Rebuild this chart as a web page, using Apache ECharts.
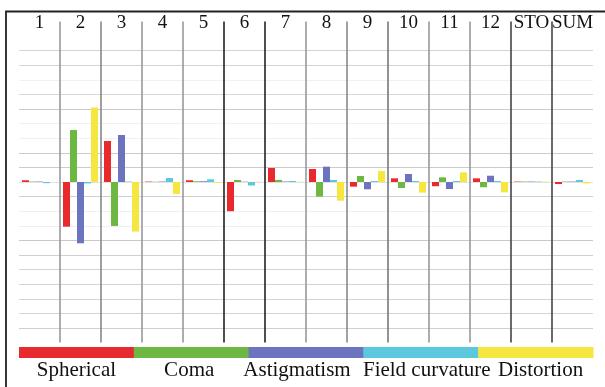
<!DOCTYPE html>
<html>
<head>
<meta charset="utf-8">
<script src="https://cdn.jsdelivr.net/npm/echarts@6/dist/echarts.min.js"></script>
<style>
html, body { margin: 0; padding: 0; background: #fff; }
#chart { width: 605px; height: 387px; }
</style>
</head>
<body>
<div id="chart"></div>
<script>
// surfaces (columns) and seidel contributions, in grid units
var surfaces = ['1', '2', '3', '4', '5', '6', '7', '8', '9', '10', '11', '12', 'STO', 'SUM'];
var spherical      = [0.12, -3.06, 2.81, 0.03, 0.12, -2.0, 0.96, 0.89, -0.32, 0.25, -0.29, 0.25, 0.03, -0.14];
var coma           = [0.03, 3.56, -3.01, 0.02, 0.05, 0.14, 0.14, -1.0, 0.41, -0.41, 0.32, -0.36, 0.03, 0.03];
var astigmatism    = [0.03, -4.2, 3.22, 0.03, 0.05, 0.02, 0.03, 1.05, -0.5, 0.55, -0.48, 0.43, 0.03, 0.03];
var fieldCurvature = [-0.08, -0.1, 0.03, 0.27, 0.18, -0.24, 0.07, 0.14, 0.07, 0.07, 0.07, 0.07, 0.03, 0.14];
var distortion     = [0.0, 5.1, -3.4, -0.82, -0.05, 0.02, 0.02, -1.28, 0.75, -0.73, 0.66, -0.71, 0.03, -0.1];
var seriesNames = ['Spherical', 'Coma', 'Astigmatism', 'Field curvature', 'Distortion'];

var seriesColors = ['#e8292e', '#6cb843', '#6c74c0', '#5cc8dd', '#f6e740'];
var legendTextShift = [0, -2, -9, 6, 5];

// layout
var gridLeft = 19, gridRight = 12, gridTop = 21.4, gridBottom = 44.4;
var chartW = 605;

// vertical separators, one per boundary (first and last hidden)
var sepColors = ['rgba(0,0,0,0)', '#999', '#888', '#999', '#999', '#222', '#222', '#999', '#8a8a8a',
    '#777', '#999', '#999', '#444', '#444', 'rgba(0,0,0,0)'];
// horizontal gridlines from -11 up to 11
var hLineColors = ['rgba(0,0,0,0)', '#cfcfcf', '#d4d4d4', '#d4d4d4', '#d4d4d4', '#d4d4d4', '#d0d0d0',
    '#c8c8c8', '#efefef', '#efefef', '#d0d0d0', '#e2e2e2', '#cccccc', '#cccccc', '#f1f1f1', '#f1f1f1',
    '#cccccc', '#d8d8d8', '#f1f1f1', '#d4d4d4', '#d4d4d4', 'rgba(0,0,0,0)', 'rgba(0,0,0,0)'];

var myChart = echarts.init(document.getElementById('chart'));

var dataSets = [spherical, coma, astigmatism, fieldCurvature, distortion];
var series = [];
for (var i = 0; i < dataSets.length; i++) {
    series.push({
        name: seriesNames[i],
        type: 'bar',
        data: dataSets[i],
        barWidth: 7,
        barGap: '0%',
        itemStyle: { color: seriesColors[i] },
        emphasis: { disabled: true }
    });
}

// legend band under the plot
var bandW = (chartW - gridLeft - gridRight) / seriesNames.length;
var graphics = [{
    type: 'polyline',
    shape: { points: [[6, 387], [6, 11.5], [605, 11.5]] },
    style: { stroke: '#222', lineWidth: 1.8, fill: null },
    silent: true
}];
for (var j = 0; j < seriesNames.length; j++) {
    graphics.push({
        type: 'rect',
        shape: { x: gridLeft + j * bandW, y: 347, width: bandW + 0.5, height: 11 },
        style: { fill: seriesColors[j] },
        silent: true
    });
    graphics.push({
        type: 'text',
        x: gridLeft + j * bandW + bandW / 2 + legendTextShift[j],
        y: 370.6,
        style: {
            text: seriesNames[j],
            font: '21px "Liberation Serif"',
            fill: '#111',
            align: 'center',
            verticalAlign: 'middle'
        },
        silent: true
    });
}

var option = {
    animation: false,
    backgroundColor: '#fff',
    grid: { left: gridLeft, right: gridRight, top: gridTop, bottom: gridBottom },
    xAxis: {
        type: 'category',
        position: 'top',
        data: surfaces,
        axisLine: { show: false },
        axisTick: { show: false },
        axisLabel: {
            margin: -2,
            verticalAlign: 'middle',
            color: '#111',
            fontFamily: 'Liberation Serif',
            fontSize: 19,
            interval: 0
        },
        splitLine: {
            show: true,
            interval: 0,
            lineStyle: { color: sepColors, width: 1.6 }
        }
    },
    yAxis: {
        type: 'value',
        min: -11,
        max: 11,
        interval: 1,
        axisLine: { show: false },
        axisTick: { show: false },
        axisLabel: { show: false },
        splitLine: { lineStyle: { color: hLineColors, width: 1 } }
    },
    series: series,
    graphic: graphics
};
myChart.setOption(option);
</script>
</body>
</html>
